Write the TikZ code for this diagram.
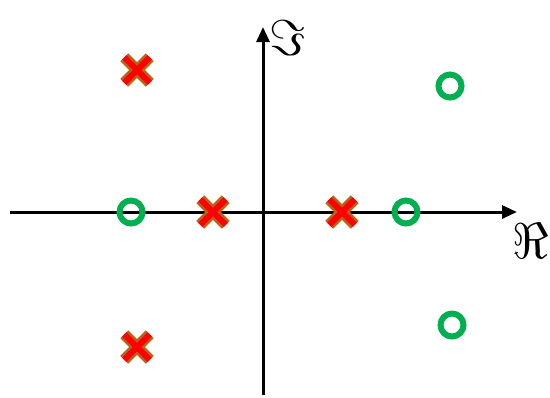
\documentclass[tikz,border=0pt]{standalone}
\usepackage{amsmath}
\usepackage{tikz}
\usepackage{xcolor}
\usetikzlibrary{positioning, arrows.meta, shapes.misc}

\definecolor{polered}{RGB}{255,0,0}
\definecolor{poleedge}{RGB}{184,100,20}
\definecolor{zerogreen}{RGB}{0,176,80}

\begin{document}
\begin{tikzpicture}[
    x=0.02cm, y=-0.02cm,
    axis/.style={line width=0.06cm, -{Triangle[length=0.3cm, width=0.26cm]}},
    pole/.style={cross out, draw=poleedge, double=polered, double distance=0.12cm, line width=0.05cm, minimum size=0.46cm, inner sep=0pt},
    zero/.style={circle, draw=zerogreen, line width=0.12cm, minimum size=0.46cm, inner sep=0pt},
    lbl/.style={font=\Huge, scale=1.15, inner sep=0pt}
  ]
    \useasboundingbox (0,0) rectangle (550,397);
    \coordinate (xstart) at (10,212);
    \coordinate (xend) at (517,212);
    \coordinate (ystart) at (263,395);
    \coordinate (yend) at (263,27);

    \draw[axis] (xstart) -- (xend);
    \draw[axis] (ystart) -- (yend);
    \node[lbl] (re) at (531,241) {$\Re$};
    \node[lbl] (im) at (288,38) {$\Im$};

    \node[zero] (z1) at (131,212) {};
    \node[zero] (z2) at (406,212) {};
    \node[zero] (z3) at (450,86) {};
    \node[zero] (z4) at (452,325) {};

    \node[pole] (p1) at (137,70) {};
    \node[pole] (p2) at (213,212) {};
    \node[pole] (p3) at (342,212) {};
    \node[pole] (p4) at (137,347) {};
  \end{tikzpicture}
\end{document}
